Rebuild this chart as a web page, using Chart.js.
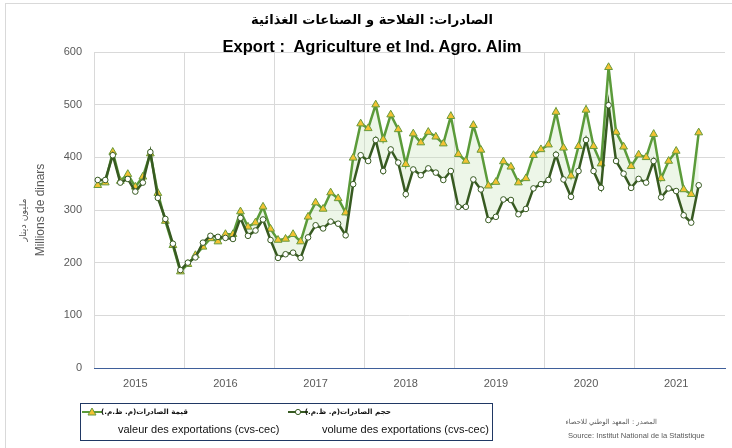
<!DOCTYPE html>
<html>
<head>
<meta charset="utf-8">
<script src="https://cdn.jsdelivr.net/npm/chart.js@4.4.1/dist/chart.umd.min.js"></script>
<style>
    body { margin: 0; background: #fff; }
    #wrap { position: relative; width: 732px; height: 448px; overflow: hidden; font-family: "Liberation Sans", Arial, sans-serif; }
    #frame { position: absolute; left: 5px; top: 3px; width: 760px; height: 480px; border: 1px solid #d9d9d9; }
    canvas { position: absolute; left: 0; top: 0; }
    .t { position: absolute; white-space: nowrap; }
    .ar { font-family: "DejaVu Sans", sans-serif; direction: rtl; }
    .title { left: 0; width: 744px; text-align: center; font-weight: bold; color: #000; line-height: 18px; }
    .ytitle { transform: translate(-50%, -50%) rotate(-90deg); color: #595959; }
    #legend { position: absolute; left: 80px; top: 403px; width: 411px; height: 36px; border: 1.5px solid #203864; }
    .lg-fr { font-size: 11px; color: #111; line-height: 12px; }
    .lg-ar { font-size: 7.2px; font-weight: bold; color: #111; line-height: 10px; }
    .src { color: #595959; }
</style>
</head>
<body>
<div id="wrap">
    <div id="frame"></div>
    <canvas id="chart" width="732" height="448"></canvas>

    <div class="t title ar" style="top:11px;font-size:13px;">الصادرات: الفلاحة و الصناعات الغذائية</div>
    <div class="t title" style="top:37px;font-size:16.5px;">Export :&nbsp; Agriculture et Ind. Agro. Alim</div>

    <div class="t ytitle ar" style="left:22px;top:220px;font-size:9.5px;">مليون دينار</div>
    <div class="t ytitle" style="left:40px;top:210px;font-size:12px;">Millions de dinars</div>

    <div id="legend"></div>
    <svg class="t" style="left:81px;top:406px;" width="22" height="12">
        <line x1="1" y1="6" x2="21" y2="6" stroke="#5b9b3a" stroke-width="2"/>
        <polygon points="11,2 15,9 7,9" fill="#f3c232" stroke="#689a3c" stroke-width="1"/>
    </svg>
    <div class="t lg-ar ar" style="right:544px;top:407px;">قيمة  الصادرات(م. ظ.م.)</div>
    <div class="t lg-fr" style="left:118px;top:423px;">valeur des exportations (cvs-cec)</div>

    <svg class="t" style="left:287px;top:406px;" width="22" height="12">
        <line x1="1" y1="6" x2="21" y2="6" stroke="#375a21" stroke-width="2"/>
        <circle cx="11" cy="6" r="2.6" fill="#fff" stroke="#375a21" stroke-width="1"/>
    </svg>
    <div class="t lg-ar ar" style="right:341px;top:407px;">حجم  الصادرات(م. ظ.م.)</div>
    <div class="t lg-fr" style="left:322px;top:423px;">volume des exportations (cvs-cec)</div>

    <div class="t src ar" style="right:75px;top:418px;font-size:6.8px;">المصدر : المعهد الوطني للاحصاء</div>
    <div class="t src" style="left:568px;top:431px;font-size:7.6px;">Source: Institut National de la Statistique</div>
</div>

<script>
// années affichées sur l'axe (mois de janvier 2015 à décembre 2021)
const years = ['2015', '2016', '2017', '2018', '2019', '2020', '2021'];

// valeur des exportations (cvs-cec), millions de dinars, de janv. 2015 à sept. 2021
const valeur = [
    347, 352, 410, 355, 368, 344, 363, 407, 332, 279, 233, 183,
    197, 214, 230, 246, 240, 254, 254, 297, 268, 276, 306, 264,
    243, 245, 254, 240, 287, 314, 302, 333, 322, 295, 399, 464,
    455, 500, 434, 481, 453, 387, 445, 428, 448, 439, 426, 478,
    406, 393, 461, 414, 346, 353, 392, 382, 352, 360, 404, 415,
    424, 486, 418, 365, 421, 490, 421, 388, 571, 448, 420, 383,
    405, 400, 444, 360, 393, 412, 339, 330, 447
];

// volume des exportations (cvs-cec)
const volume = [
    357, 357, 404, 352, 359, 335, 352, 410, 323, 283, 236, 186,
    200, 210, 238, 251, 249, 247, 245, 285, 251, 261, 282, 243,
    209, 216, 219, 209, 248, 271, 265, 278, 274, 252, 349, 404,
    393, 433, 374, 415, 390, 330, 377, 366, 379, 371, 357, 374,
    306, 306, 358, 339, 281, 287, 320, 319, 292, 302, 341, 349,
    357, 405, 358, 325, 374, 433, 374, 342, 499, 393, 369, 342,
    359, 352, 393, 324, 341, 336, 290, 276, 347
];

// une catégorie par mois, 12 par année
const months = [];
years.forEach(y => {
    for (let m = 1; m <= 12; m++) months.push(y + '-' + (m < 10 ? '0' + m : m));
});

Chart.defaults.font.family = '"Liberation Sans", Arial, sans-serif';

new Chart(document.getElementById('chart'), {
    type: 'line',
    data: {
        labels: months,
        datasets: [
            {
                label: 'valeur des exportations (cvs-cec)',
                data: valeur,
                borderColor: '#5b9b3a',
                borderWidth: 2.5,
                backgroundColor: 'rgba(200,226,185,0.32)',
                fill: '+1',
                tension: 0,
                pointStyle: 'triangle',
                pointRadius: 4.5,
                pointBackgroundColor: '#f3c232',
                pointBorderColor: '#689a3c',
                pointBorderWidth: 1,
                order: 2
            },
            {
                label: 'volume des exportations (cvs-cec)',
                data: volume,
                borderColor: '#375a21',
                borderWidth: 2.5,
                fill: false,
                tension: 0,
                pointStyle: 'circle',
                pointRadius: 2.8,
                pointBackgroundColor: '#ffffff',
                pointBorderColor: '#375a21',
                pointBorderWidth: 1,
                order: 1
            }
        ]
    },
    options: {
        responsive: false,
        animation: false,
        layout: { padding: { top: 52, right: 7, left: 0, bottom: 0 } },
        plugins: {
            legend: { display: false },
            title: { display: false },
            tooltip: { enabled: false }
        },
        scales: {
            x: {
                offset: true,
                grid: {
                    offset: true,
                    drawTicks: false,
                    color: c => (c.index % 12 === 0 ? '#d9d9d9' : 'rgba(0,0,0,0)')
                },
                border: { display: true, color: '#3f5f9a', width: 1 },
                ticks: {
                    autoSkip: false,
                    maxRotation: 0,
                    minRotation: 0,
                    padding: 9,
                    color: '#595959',
                    font: { size: 11 },
                    callback: (v, i) => (i % 12 === 5 ? years[Math.floor(i / 12)] : '')
                },
                afterFit: s => { s.height = 80; }
            },
            y: {
                min: 0,
                max: 600,
                ticks: { stepSize: 100, padding: 12, color: '#595959', font: { size: 11 } },
                grid: { color: '#d9d9d9', drawTicks: false },
                border: { display: false },
                afterFit: s => { s.width = 94; }
            }
        }
    }
});
</script>
</body>
</html>
